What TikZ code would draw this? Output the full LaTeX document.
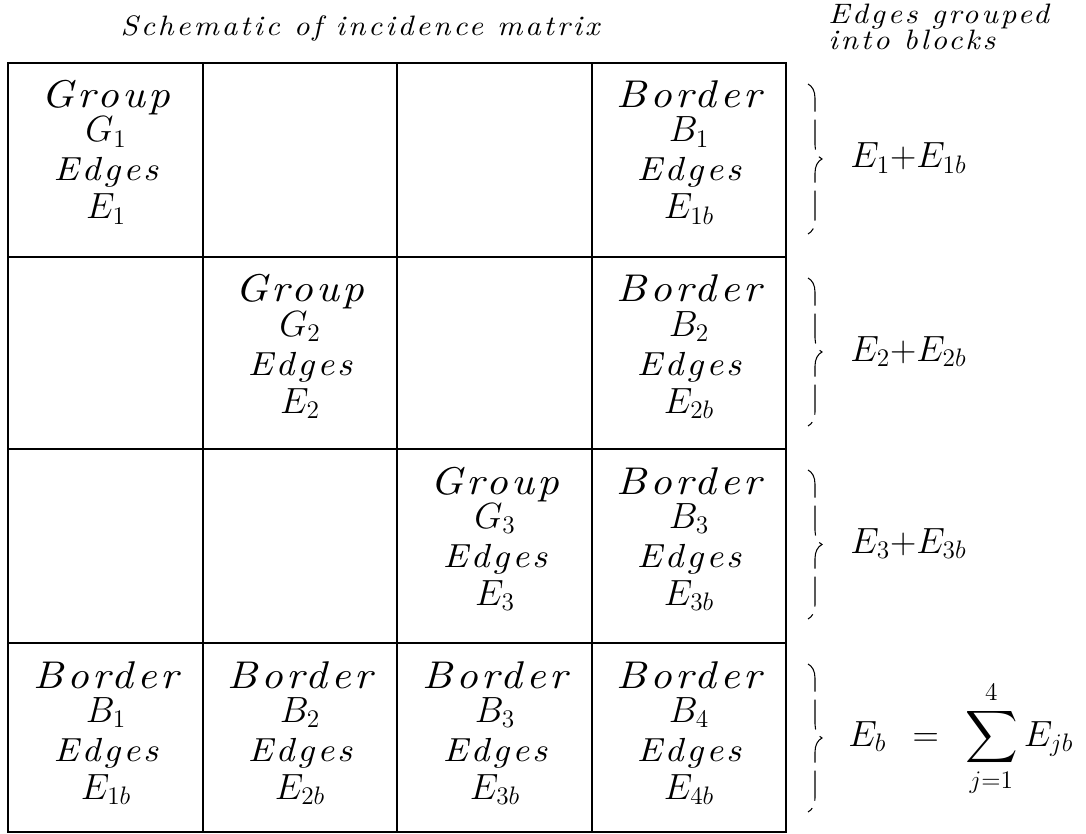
\documentclass[tikz,border=0pt]{standalone}
\usepackage{amsmath}
\usepackage{fontspec}
\newfontfamily\plotfont{lmroman10-italic.otf}[FakeStretch=1.1, LetterSpace=9]
\newfontfamily\headfont{lmroman10-italic.otf}[FakeStretch=1.1, LetterSpace=10]
\usetikzlibrary{decorations.pathreplacing}

\tikzset{
  gridline/.style={line width=0.8pt},
  word/.style={font=\plotfont\fontsize{22}{26}\selectfont, anchor=base, inner sep=0pt},
  edgeword/.style={font=\plotfont\fontsize{19}{23}\selectfont, anchor=base, inner sep=0pt},
  sym/.style={font=\fontsize{20.74}{24}\selectfont, anchor=base, inner sep=0pt},
  heading/.style={font=\headfont\fontsize{16}{12}\selectfont, inner sep=0pt},
  blocksum/.style={font=\fontsize{20.74}{24}\selectfont, anchor=base west, inner sep=0pt},
  blockbrace/.style={decorate, decoration={brace, amplitude=2.8mm}, line width=0.6pt,
    dash pattern=on 6mm off 1.6mm}
}

% one block of the matrix: name, x, top of row, word, letter, index
\newcommand{\blockcell}[6]{%
  \node[word] (#1-w) at (#2,#3+45) {#4};
  \node[sym] (#1-s) at (#2,#3+79) {$#5_{#6}$};
  \node[edgeword] (#1-e) at (#2,#3+118) {Edges};
  \node[sym] (#1-x) at (#2,#3+156) {$E_{#6}$};
}
\newcommand{\bordercell}[5]{%
  \node[word] (#1-w) at (#2,#3+45) {Border};
  \node[sym] (#1-s) at (#2,#3+79) {$B_{#4}$};
  \node[edgeword] (#1-e) at (#2,#3+118) {Edges};
  \node[sym] (#1-x) at (#2,#3+156) {$E_{#5}$};
}

\begin{document}
\begin{tikzpicture}[x=0.2mm, y=-0.2mm]
  \useasboundingbox (0,0) rectangle (1086,834);

  % Headings
  \node[heading, anchor=base] (title) at (360,36) {Schematic of incidence matrix};
  \node[heading, anchor=base west] (blockhead) at (828,24) {Edges grouped};
  \node[heading, anchor=base west] (blockhead2) at (828,50) {into blocks};

  % Grid of the incidence matrix
  \draw[gridline] (8,63) rectangle (786,832);
  \draw[gridline] (203,63) -- (203,832);
  \draw[gridline] (397,63) -- (397,832);
  \draw[gridline] (592,63) -- (592,832);
  \draw[gridline] (8,257) -- (786,257);
  \draw[gridline] (8,449) -- (786,449);
  \draw[gridline] (8,643) -- (786,643);

  % Diagonal blocks
  \blockcell{g1}{106}{63}{Group}{G}{1}
  \blockcell{g2}{300}{257}{Group}{G}{2}
  \blockcell{g3}{495}{449}{Group}{G}{3}

  % Border column
  \bordercell{b1}{689}{63}{1}{1b}
  \bordercell{b2}{689}{257}{2}{2b}
  \bordercell{b3}{689}{449}{3}{3b}

  % Border row
  \bordercell{r1}{106}{643}{1}{1b}
  \bordercell{r2}{300}{643}{2}{2b}
  \bordercell{r3}{495}{643}{3}{3b}
  \bordercell{r4}{689}{643}{4}{4b}

  % Edges grouped into blocks
  \coordinate (k1a) at (808,84);  \coordinate (k1b) at (808,234);
  \coordinate (k2a) at (808,278); \coordinate (k2b) at (808,426);
  \coordinate (k3a) at (808,470); \coordinate (k3b) at (808,619);
  \coordinate (k4a) at (808,664); \coordinate (k4b) at (808,812);
  \draw[blockbrace] (k1a) -- (k1b);
  \draw[blockbrace] (k2a) -- (k2b);
  \draw[blockbrace] (k3a) -- (k3b);
  \draw[blockbrace] (k4a) -- (k4b);

  \node[blocksum] (s1) at (850,168) {$E_1{+}E_{1b}$};
  \node[blocksum] (s2) at (850,361) {$E_2{+}E_{2b}$};
  \node[blocksum] (s3) at (850,553) {$E_3{+}E_{3b}$};
  \node[blocksum] (s4) at (848,746) {$E_b \;\,=\;\, \displaystyle\sum_{j=1}^{4} E_{jb}$};
\end{tikzpicture}
\end{document}
